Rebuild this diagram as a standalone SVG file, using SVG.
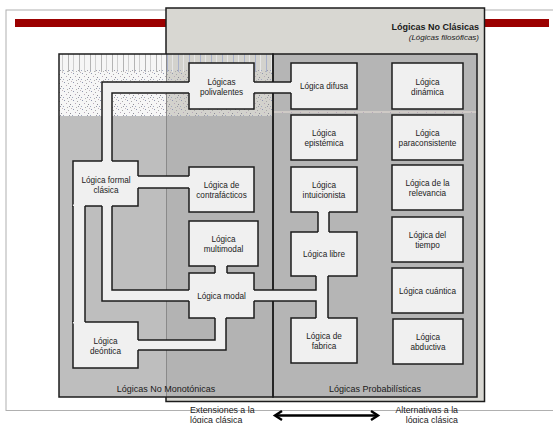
<svg xmlns="http://www.w3.org/2000/svg" width="553" height="423" viewBox="0 0 553 423">
<defs>
<style>
.node rect{fill:#f0f0f0;stroke:#1c1c1c;stroke-width:1.5}
.node text{font-family:"Liberation Sans",Arial,sans-serif;font-size:8.2px;fill:#222;text-anchor:middle}
.chan{fill:#f0f0f0;stroke:none}
.side{fill:none;stroke:#1c1c1c;stroke-width:1.5}
.lbl{font-family:"Liberation Sans",Arial,sans-serif;fill:#1a1a1a}
.box{fill:none;stroke:#1c1c1c;stroke-width:1.5}
</style>
<pattern id="stripesA" width="11" height="20" patternUnits="userSpaceOnUse">
<rect x="2" y="0" width="1" height="20" fill="#b4b4b4"/>
<rect x="7" y="0" width="1" height="20" fill="#cfcfcf"/>
</pattern>
<pattern id="stripesB" width="11" height="20" patternUnits="userSpaceOnUse">
<rect x="2" y="0" width="1" height="20" fill="#a9b1c9"/>
<rect x="7" y="0" width="1" height="20" fill="#e6e6e6"/>
</pattern>
<pattern id="speck" width="9" height="9" patternUnits="userSpaceOnUse">
<rect x="1" y="1" width="1" height="1" fill="#9096b0"/>
<rect x="5" y="2" width="1" height="1" fill="#a8a8a8"/>
<rect x="3" y="4" width="1" height="1" fill="#b8a8b8"/>
<rect x="7" y="5" width="1" height="1" fill="#8c8c96"/>
<rect x="0" y="7" width="1" height="1" fill="#a0a8c0"/>
<rect x="4" y="8" width="1" height="1" fill="#b0b0b0"/>
<rect x="8" y="0" width="1" height="1" fill="#c0b4bc"/>
<rect x="6" y="7" width="1" height="1" fill="#9a9aa8"/>
</pattern>
<marker id="head" viewBox="-1 -1 12 12" refX="8" refY="5" markerWidth="12" markerHeight="12" markerUnits="userSpaceOnUse" orient="auto-start-reverse">
<path d="M1,0.5 L8,5 L1,9.5" fill="none" stroke="#000" stroke-width="2.4"/>
</marker>
</defs>

<rect width="553" height="423" fill="#fff"/>
<!-- slide frame -->
<rect x="6" y="10" width="560" height="400.5" fill="#fff" stroke="#b0b0b0" stroke-width="1"/>
<rect x="15" y="19" width="534" height="8" fill="#9b0000"/>

<!-- Lógicas No Clásicas outer box -->
<rect x="166" y="8" width="318.5" height="393.5" fill="#d8d7d2" stroke="#1c1c1c" stroke-width="1.5"/>
<text class="lbl" x="479" y="30" font-size="9" font-weight="bold" text-anchor="end">Lógicas No Clásicas</text>
<text class="lbl" x="479" y="40" font-size="8" font-style="italic" text-anchor="end">(Lógicas filosóficas)</text>

<!-- inner regions -->
<rect x="59" y="54" width="107" height="62" fill="#f6f6f6"/>
<rect x="59" y="54" width="107" height="18" fill="url(#stripesA)"/>
<rect x="59" y="70" width="107" height="46" fill="url(#speck)"/>
<rect x="59" y="116" width="107" height="281" fill="#bebebe"/>
<rect x="166" y="54" width="107" height="62" fill="#d3d2cd"/>
<rect x="166" y="54" width="107" height="18" fill="url(#stripesB)"/>
<rect x="166" y="70" width="107" height="46" fill="url(#speck)"/>
<rect x="166" y="116" width="107" height="281" fill="#b3b3b3"/>
<rect x="273" y="54" width="204" height="343" fill="#b5b5b5"/>
<rect x="273" y="111" width="204" height="2" fill="#cfcac6"/>
<rect x="273" y="111" width="204" height="2" fill="url(#speck)"/>
<line x1="166.5" y1="54" x2="166.5" y2="397" stroke="#8a8a8a" stroke-width="1"/>
<rect id="box-no-monotonicas" class="box" x="59" y="54" width="214" height="343"/>
<rect id="box-probabilisticas" class="box" x="273" y="54" width="204" height="343"/>
<text class="lbl" x="166" y="392" font-size="9" text-anchor="middle">Lógicas No Monotónicas</text>
<text class="lbl" x="375" y="391.5" font-size="9" text-anchor="middle">Lógicas Probabilísticas</text>

<!-- nodes -->
<g id="n-polivalentes" class="node"><rect x="189" y="63" width="65" height="46"/><text x="221.5" y="84.5">Lógicas</text><text x="221.5" y="94.5">polivalentes</text></g>
<g id="n-difusa" class="node"><rect x="291" y="63" width="66" height="46"/><text x="324" y="89">Lógica difusa</text></g>
<g id="n-dinamica" class="node"><rect x="392" y="63" width="71" height="46"/><text x="427.5" y="84.5">Lógica</text><text x="427.5" y="94.5">dinámica</text></g>
<g id="n-epistemica" class="node"><rect x="291" y="115" width="66" height="45"/><text x="324" y="136">Lógica</text><text x="324" y="146">epistémica</text></g>
<g id="n-paraconsistente" class="node"><rect x="392" y="115" width="71" height="45"/><text x="427.5" y="136">Lógica</text><text x="427.5" y="146">paraconsistente</text></g>
<g id="n-formal-clasica" class="node"><rect x="73" y="161" width="65" height="45"/><text x="106" y="183">Lógica formal</text><text x="106" y="192.5">clásica</text></g>
<g id="n-contrafacticos" class="node"><rect x="189" y="167" width="65" height="45"/><text x="221.5" y="188">Lógica de</text><text x="221.5" y="198">contrafácticos</text></g>
<g id="n-intuicionista" class="node"><rect x="291" y="167" width="66" height="45"/><text x="324" y="188">Lógica</text><text x="324" y="198">intuicionista</text></g>
<g id="n-relevancia" class="node"><rect x="392" y="165" width="71" height="45"/><text x="427.5" y="186">Lógica de la</text><text x="427.5" y="196">relevancia</text></g>
<g id="n-multimodal" class="node"><rect x="189" y="221" width="69" height="45"/><text x="223.5" y="242">Lógica</text><text x="223.5" y="252">multimodal</text></g>
<g id="n-libre" class="node"><rect x="291" y="232" width="66" height="44"/><text x="324" y="257">Lógica libre</text></g>
<g id="n-tiempo" class="node"><rect x="392" y="217" width="71" height="45"/><text x="427.5" y="238">Lógica del</text><text x="427.5" y="248">tiempo</text></g>
<g id="n-modal" class="node"><rect x="189" y="273" width="65" height="45"/><text x="221.5" y="298.5">Lógica modal</text></g>
<g id="n-cuantica" class="node"><rect x="392" y="268" width="71" height="45"/><text x="427.5" y="293.5">Lógica cuántica</text></g>
<g id="n-deontica" class="node"><rect x="73" y="322" width="65" height="46"/><text x="105.5" y="343.5">Lógica</text><text x="105.5" y="353.5">deóntica</text></g>
<g id="n-fabrica" class="node"><rect x="291" y="318" width="66" height="45"/><text x="324" y="339">Lógica de</text><text x="324" y="349">fabrica</text></g>
<g id="n-abductiva" class="node"><rect x="393" y="319" width="70" height="45"/><text x="428" y="340">Lógica</text><text x="428" y="350">abductiva</text></g>

<!-- connectors (channels) -->
<g id="connectors">
<polygon class="chan" points="190.5,82 102,82 102,162.5 112,162.5 112,93 190.5,93"/>
<polyline class="side" points="189,82 102,82 102,161"/>
<polyline class="side" points="189,93 112,93 112,161"/>

<rect class="chan" x="253" y="82" width="39.5" height="11"/>
<line class="side" x1="254" y1="82" x2="291" y2="82"/>
<line class="side" x1="254" y1="93" x2="291" y2="93"/>

<rect class="chan" x="137" y="176" width="53.5" height="12"/>
<line class="side" x1="138" y1="176" x2="189" y2="176"/>
<line class="side" x1="138" y1="188" x2="189" y2="188"/>

<rect class="chan" x="73" y="204.5" width="12" height="119"/>
<line class="side" x1="73" y1="206" x2="73" y2="322"/>
<line class="side" x1="85" y1="206" x2="85" y2="322"/>

<polygon class="chan" points="102,204.5 102,301 190.5,301 190.5,290 112,290 112,204.5"/>
<polyline class="side" points="102,206 102,301 189,301"/>
<polyline class="side" points="112,206 112,290 189,290"/>

<rect class="chan" x="215" y="264.5" width="12" height="10"/>
<line class="side" x1="215" y1="266" x2="215" y2="273"/>
<line class="side" x1="227" y1="266" x2="227" y2="273"/>

<polygon class="chan" points="215,316.5 215,340 136.5,340 136.5,350 226,350 226,316.5"/>
<polyline class="side" points="215,318 215,340 138,340"/>
<polyline class="side" points="226,318 226,350 138,350"/>

<polygon class="chan" points="252.5,290 316,290 316,274.5 328,274.5 328,319.5 316,319.5 316,301 252.5,301"/>
<polyline class="side" points="254,290 316,290 316,276"/>
<polyline class="side" points="254,301 316,301 316,318"/>
<line class="side" x1="328" y1="276" x2="328" y2="318"/>

<rect class="chan" x="318" y="210.5" width="11" height="23"/>
<line class="side" x1="318" y1="212" x2="318" y2="232"/>
<line class="side" x1="329" y1="212" x2="329" y2="232"/>
</g>

<!-- bottom labels and arrow -->
<text class="lbl" x="190" y="413" font-size="8.8">Extensiones a la</text>
<text class="lbl" x="190" y="422.5" font-size="8.8">lógica clásica</text>
<text class="lbl" x="458" y="413" font-size="8.8" text-anchor="end">Alternativas a la</text>
<text class="lbl" x="458" y="422.5" font-size="8.8" text-anchor="end">lógica clásica</text>
<line x1="275" y1="415.5" x2="378" y2="415.5" stroke="#000" stroke-width="2.4" marker-start="url(#head)" marker-end="url(#head)"/>
</svg>
